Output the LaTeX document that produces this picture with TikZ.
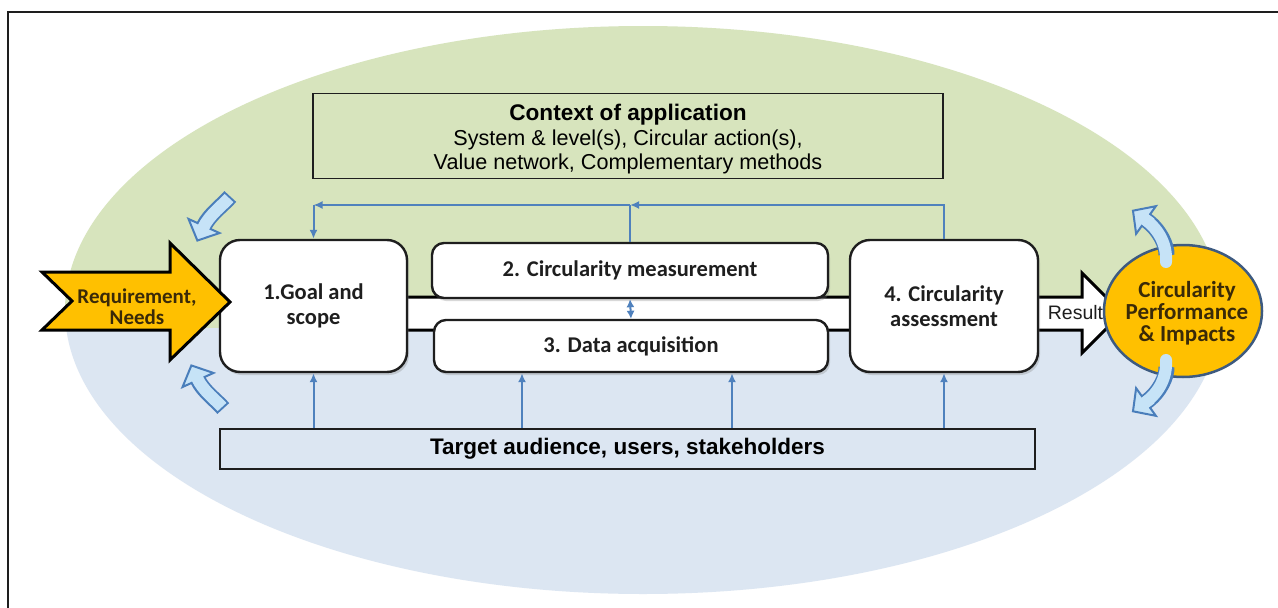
\documentclass[tikz,border=0pt]{standalone}
\usepackage{fontspec}
\setmainfont{Liberation Sans}
\newfontfamily\calibri{Carlito}
\usetikzlibrary{calc,arrows.meta,shadows,shapes.geometric}

\definecolor{bggreen}{HTML}{D7E4BD}
\definecolor{bgblue}{HTML}{DCE6F2}
\definecolor{linkblue}{HTML}{4F81BD}
\definecolor{gold}{HTML}{FFC000}
\definecolor{ringblue}{HTML}{3D5A80}
\definecolor{pale}{HTML}{C6E3F7}
\definecolor{paleline}{HTML}{4A7EBB}
\definecolor{ink}{HTML}{1E1E1E}
\definecolor{brownink}{HTML}{3A2A08}

\tikzset{
  stepbox/.style={draw=ink, line width=2.4pt, fill=white, rounded corners=#1,
    drop shadow={shadow xshift=2pt, shadow yshift=-3pt, opacity=0.3},
    font=\calibri\bfseries\fontsize{22.5}{25}\selectfont, text=ink,
    align=center, inner sep=0pt},
  stepbox/.default=20pt,
  framebox/.style={draw=ink, line width=1.6pt, inner sep=0pt, align=center},
  fb/.style={draw=linkblue, line width=2pt},
  fbtip/.style={-{Latex[length=9pt,width=8pt]}},
  fbtips/.style={{Latex[length=8pt,width=8pt]}-{Latex[length=8pt,width=8pt]}},
}

% curved block arrow with a flat, outlined tail
\newcommand\curvyarrow[4]{%
  \draw[paleline, line width=16pt, shorten <=-2pt] (#1) .. controls (#2) and (#3) .. (#4);
  \filldraw[fill=pale, draw=paleline, line width=2pt, line join=miter]
    ($(#4)!17pt!90:(#3)$) -- ($(#4)!-16pt!(#3)$) -- ($(#4)!17pt!-90:(#3)$) -- cycle;
  \draw[pale, line width=12pt, shorten >=-2pt] (#1) .. controls (#2) and (#3) .. (#4);
}
% curved block arrow whose tail is a soft round blob
\newcommand\curvyarrowround[4]{%
  \draw[paleline, line width=16pt, shorten <=7pt] (#1) .. controls (#2) and (#3) .. (#4);
  \filldraw[fill=pale, draw=paleline, line width=2pt, line join=miter]
    ($(#4)!17pt!90:(#3)$) -- ($(#4)!-16pt!(#3)$) -- ($(#4)!17pt!-90:(#3)$) -- cycle;
  \draw[pale, line width=12pt, line cap=round, shorten >=-2pt] (#1) .. controls (#2) and (#3) .. (#4);
  \draw[pale, line width=12pt, shorten >=-2pt] ($(#4)!6pt!(#3)$) -- (#4);
}

\begin{document}
\begin{tikzpicture}[x=1pt,y=-1pt]
\useasboundingbox (0,0) rectangle (1278,608);
\fill[white] (0,0) rectangle (1278,608);

% two-tone background ellipse
\begin{scope}
  \clip (643,310) ellipse [x radius=578, y radius=284];
  \fill[bggreen] (0,0) rectangle (1278,328);
  \fill[bgblue] (0,328) rectangle (1278,608);
\end{scope}

% outer frame
\draw[ink, line width=2.6pt] (8,608) -- (8,12) -- (1278,12);

% white process band ending in the result arrow
\filldraw[fill=white, draw=black, line width=3pt, line join=miter]
  (400,297) -- (1082,297) -- (1082,273) -- (1122,313) -- (1082,353) -- (1082,330) -- (400,330);

% context box
\node[framebox, minimum width=630pt, minimum height=85pt] (ctx) at (628,136) {};
\node[align=center, inner sep=0pt, font=\fontsize{21.6}{24}\selectfont] (ctxt) at (628,139)
  {{\bfseries\fontsize{22.6}{25}\selectfont Context of application}\\[1.5pt]
   System \& level(s), Circular action(s),\\
   Value network, Complementary methods};

% process steps
\node[stepbox=20pt, minimum width=187pt, minimum height=132pt] (b1) at (313.5,306) {1.Goal and\\scope};
\node[stepbox=12pt, minimum width=396pt, minimum height=55pt] (b2) at (630,270.5) {2. Circularity measurement};
\node[stepbox=12pt, minimum width=394pt, minimum height=52pt] (b3) at (631,346) {3. Data acquisition};
\node[stepbox=20pt, minimum width=188pt, minimum height=132pt] (b4) at (944,306) {4. Circularity\\assessment};

% audience box
\node[framebox, fill=bgblue, minimum width=815pt, minimum height=40pt,
  font=\bfseries\fontsize{22.5}{25}\selectfont] (aud) at (627.5,449) {Target audience, users, stakeholders};

% feedback loop along the top
\coordinate (fbj) at (b2.north |- 0,205);
\coordinate (fbc) at (b1.north |- 0,205);
\draw[fb, fbtip] (b4.north) |- (fbj);
\draw[fb] (b2.north) -- (fbj);
\draw[fb, fbtip] (fbj) -- (fbc);
\draw[fb, fbtip] (fbc) -- (b1.north);
\draw[fb, fbtips] (b2.south) -- (b3.north);

% audience feeding every step
\coordinate (a2) at ($(aud.north)+(-105.5,0)$);
\coordinate (a3) at ($(aud.north)+(104.5,0)$);
\draw[fb, fbtip] (aud.north -| b1.south) -- (b1.south);
\draw[fb, fbtip] (a2) -- (a2 |- b3.south);
\draw[fb, fbtip] (a3) -- (a3 |- b3.south);
\draw[fb, fbtip] (aud.north -| b4.south) -- (b4.south);

\node[font=\fontsize{19.5}{22}\selectfont, text=ink] (res) at (1075.5,313) {Result};

% requirement input arrow
\filldraw[fill=gold, draw=black, line width=3pt, line join=miter]
  (42,272) -- (170,272) -- (170,243) -- (230,302) -- (170,360) -- (170,330) -- (42,330) -- (72,301) -- cycle;
\node[font=\calibri\bfseries\fontsize{21}{21}\selectfont, text=brownink, align=center] (req) at (137,307)
  {Requirement,\\Needs};

% performance outcome
\node[ellipse, draw=ringblue, line width=2.5pt, fill=gold, minimum width=158pt, minimum height=132pt,
  inner sep=0pt] (perf) at (1183,311) {};
\curvyarrowround{1166,262}{1167,246}{1160,230}{1146,220}
\curvyarrowround{1166,360}{1167,376}{1160,392}{1146,402}
\node[text=brownink, align=center, font=\calibri\bfseries\fontsize{23}{22}\selectfont]
  (perft) at (1187,313) {Circularity\\Performance\\\& Impacts};

% feedback hints at the left
\curvyarrow{229,198}{224,204}{209,215}{204,226}
\curvyarrow{222,407}{217,401}{203,391}{198,380}
\end{tikzpicture}
\end{document}
